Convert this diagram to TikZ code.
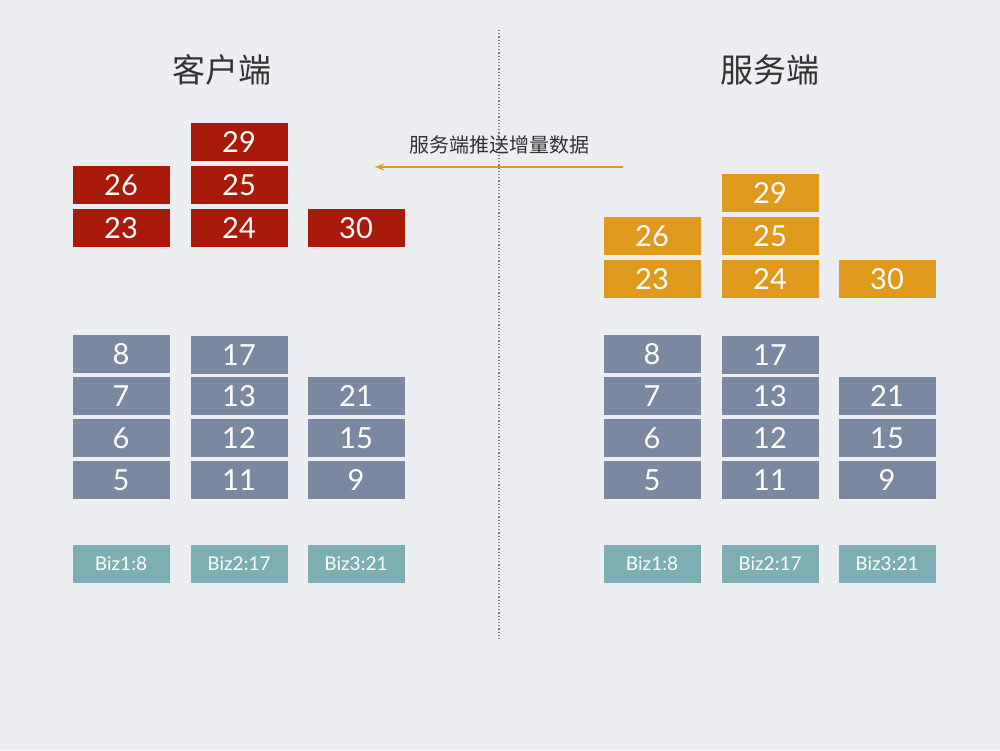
\documentclass[tikz,border=0pt]{standalone}
\usepackage{fontspec}
\setmainfont{Lato}
\newfontfamily\cjk{Noto Sans CJK SC}
\usetikzlibrary{arrows.meta}
\definecolor{bg}{HTML}{EDEEF1}
\definecolor{cred}{HTML}{A91A0A}
\definecolor{cora}{HTML}{DF9A1D}
\definecolor{cgray}{HTML}{7B88A1}
\definecolor{cteal}{HTML}{7CAEB4}
\definecolor{ctext}{HTML}{333333}
\tikzset{
 bx/.style={minimum width=97pt,minimum height=38pt,inner sep=0pt,text=white,font=\fontsize{29}{29}\selectfont,text depth=0pt,yshift=0pt},
 rb/.style={bx,fill=cred},
 ob/.style={bx,fill=cora},
 gb/.style={bx,fill=cgray},
 tb/.style={bx,fill=cteal,font=\fontsize{19}{19}\selectfont},
}
\begin{document}
\begin{tikzpicture}[x=1pt,y=-1pt]
\fill[bg] (0,0) rectangle (1000,750);
\useasboundingbox (0,0) rectangle (1000,750);
\node[text=ctext,font=\cjk\fontsize{33}{33}\selectfont] (tl) at (222,70) {客户端};
\node[text=ctext,font=\cjk\fontsize{33}{33}\selectfont] (tr) at (770,70) {服务端};
\coordinate (dt) at (499,30); \coordinate (db) at (499,640);
\draw[gray,dotted,line width=1.2pt] (dt) -- (db);
\coordinate (as) at (623,167); \coordinate (ae) at (375,167);
\draw[cora,line width=1.6pt,-{Stealth[length=9pt]}] (as) -- (ae);
\node[text=ctext,font=\cjk\fontsize{20}{20}\selectfont] (al) at (499,145) {服务端推送增量数据};
\foreach \t/\x/\y in {29/239/142,26/121/185,25/239/185,23/121/228,24/239/228,30/356/228}
  \node[rb] (c\t) at (\x,\y) {\t};
\foreach \t/\x/\y in {29/770/193,26/652/236,25/770/236,23/652/279,24/770/279,30/887/279}
  \node[ob] (s\t) at (\x,\y) {\t};
\foreach \p/\a/\b/\c in {c/121/239/356,s/652/770/887}{
 \foreach \t/\x/\y in {8/\a/354,17/\b/355,7/\a/396,13/\b/396,21/\c/396,6/\a/438,12/\b/438,15/\c/438,5/\a/480,11/\b/480,9/\c/480}
   \node[gb] (\p g\t) at (\x,\y) {\t};
 \node[tb] (\p b1) at (\a,564) {Biz1:8};
 \node[tb] (\p b2) at (\b,564) {Biz2:17};
 \node[tb] (\p b3) at (\c,564) {Biz3:21};
}
\end{tikzpicture}
\end{document}
